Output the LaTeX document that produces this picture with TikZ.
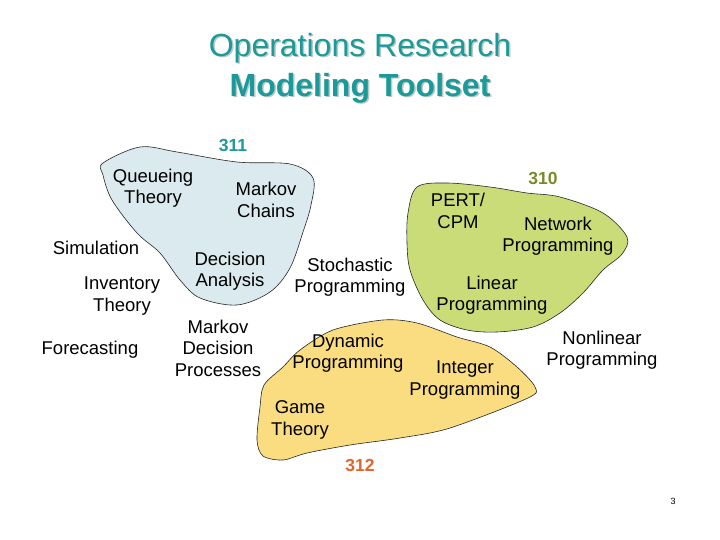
\documentclass[tikz,border=0pt]{standalone}
\usepackage{fontspec}
\setmainfont{Liberation Sans}
\definecolor{teal1}{HTML}{1C9A9A}
\definecolor{shadowc}{HTML}{B8C8C8}
\definecolor{bluefill}{HTML}{DAEAEE}
\definecolor{greenfill}{HTML}{CADC78}
\definecolor{yellowfill}{HTML}{F9DD80}
\definecolor{olive1}{HTML}{7A8A28}
\definecolor{orange1}{HTML}{E0662A}
\tikzset{
  lbl/.style={align=center, inner sep=0pt, font=\fontsize{18.5}{21.5}\selectfont},
  ttl/.style={align=center, inner sep=0pt, font=\fontsize{32}{40}\selectfont},
  num/.style={inner sep=0pt, font=\fontsize{17.5}{20}\selectfont\bfseries},
  blob/.style={draw=black!85, line width=0.6pt}
}
\begin{document}
\begin{tikzpicture}[x=1pt,y=-1pt]
\useasboundingbox (0,0) rectangle (720,540);
% title with shadow
\node[ttl, text=shadowc] (t1s) at (361.5,49.5) {Operations Research};
\node[ttl, text=shadowc] (t2s) at (361.5,89.5) {\bfseries Modeling Toolset};
\node[ttl, text=teal1] (t1) at (360,48) {Operations Research};
\node[ttl, text=teal1] (t2) at (360,88) {\bfseries Modeling Toolset};
% blobs
\draw[blob, fill=bluefill] plot[smooth cycle, tension=0.55] coordinates {
 (103,163) (140,147) (177,152) (237,162) (290,164) (313,178) (311,205)
 (303,232) (290,268) (270,292) (237,305) (200,298) (180,280) (160,253)
 (137,233) (112,200) (103,175)};
\draw[blob, fill=greenfill] plot[smooth cycle, tension=0.55] coordinates {
 (417,187) (447,183) (490,187) (527,193) (560,197) (603,213) (627,237)
 (622,254) (603,270) (583,293) (560,313) (533,327) (497,332) (467,330)
 (440,320) (423,300) (410,270) (407,243) (408,213)};
\draw[blob, fill=yellowfill] plot[smooth cycle, tension=0.5] coordinates {
 (300,350) (333,330) (383,320) (417,323) (457,337) (490,347) (517,367)
 (535,387) (528,398) (450,428) (400,438) (350,445) (307,453) (283,460)
 (263,456) (257,440) (260,407) (264,385) (283,367)};
% numbers
\node[num, text=teal1] (n311) at (233,145) {311};
\node[num, text=olive1] (n310) at (543,178) {310};
\node[num, text=orange1] (n312) at (360,465) {312};
% labels
\node[lbl] (qt) at (153,188) {Queueing\\Theory};
\node[lbl] (mc) at (266,200) {Markov\\Chains};
\node[lbl] (sim) at (96,248) {Simulation};
\node[lbl] (inv) at (122,296) {Inventory\\Theory};
\node[lbl] (fc) at (90,350) {Forecasting};
\node[lbl] (da) at (230,271) {Decision\\Analysis};
\node[lbl] (mdp) at (218,348) {Markov\\Decision\\Processes};
\node[lbl] (sp) at (350,277) {Stochastic\\Programming};
\node[lbl] (pert) at (458,211) {PERT/\\CPM};
\node[lbl] (np) at (558,236) {Network\\Programming};
\node[lbl] (lp) at (492,295) {Linear\\Programming};
\node[lbl] (nlp) at (602,350) {Nonlinear\\Programming};
\node[lbl] (dp) at (348,353) {Dynamic\\Programming};
\node[lbl] (ip) at (465,380) {Integer\\Programming};
\node[lbl] (gt) at (300,420) {Game\\Theory};
\node[inner sep=0pt, font=\fontsize{9}{11}\selectfont] (pg) at (673,501) {3};
\end{tikzpicture}
\end{document}
